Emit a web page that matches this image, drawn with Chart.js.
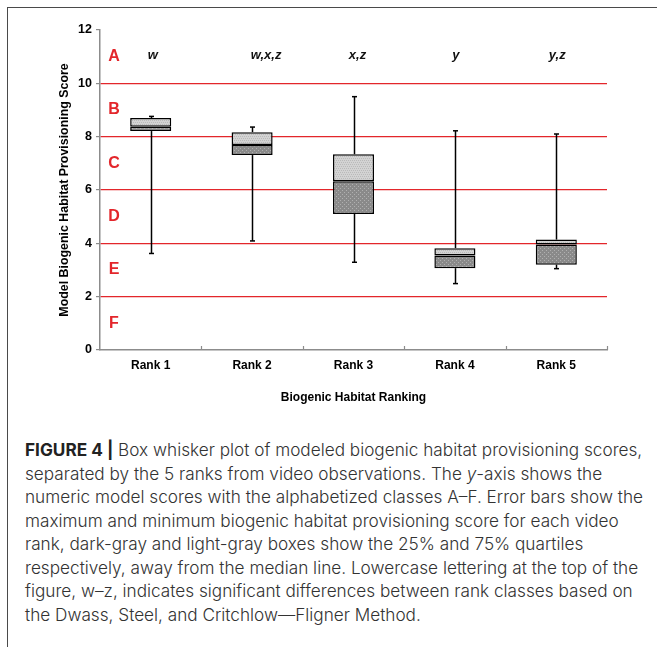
<!DOCTYPE html>
<html>
<head>
<meta charset="utf-8">
<script src="https://cdn.jsdelivr.net/npm/chart.js@4/dist/chart.umd.min.js"></script>
<style>
  html, body { margin: 0; padding: 0; background: #fff; }
  body { width: 657px; height: 647px; position: relative; overflow: hidden; }
  #frameTop { position: absolute; left: 8px; top: 7px; width: 649px; height: 0; border-top: 1.5px solid #4a4a4a; }
  #frameLeft { position: absolute; left: 7px; top: 7px; width: 0; height: 640px; border-left: 1.5px solid #4a4a4a; }
  #chart { position: absolute; left: 0; top: 0; }
  #caption {
    position: absolute; left: 25px; top: 438px; width: 640px;
    font-family: Inter, "Liberation Sans", Arial, sans-serif;
    font-weight: 300; font-size: 17.2px; line-height: 23.5px; color: #333;
    white-space: nowrap;
  }
  #caption b { font-weight: 700; color: #222; }
</style>
</head>
<body>
<div id="frameTop"></div>
<div id="frameLeft"></div>
<canvas id="chart" width="657" height="420"></canvas>
<div id="caption"><b>FIGURE 4 |</b> Box whisker plot of modeled biogenic habitat provisioning scores,<br>separated by the 5 ranks from video observations. The <i>y</i>-axis shows the<br>numeric model scores with the alphabetized classes A–F. Error bars show the<br>maximum and minimum biogenic habitat provisioning score for each video<br>rank, dark-gray and light-gray boxes show the 25% and 75% quartiles<br>respectively, away from the median line. Lowercase lettering at the top of the<br>figure, w–z, indicates significant differences between rank classes based on<br>the Dwass, Steel, and Critchlow—Fligner Method.</div>

<script>
// Rank categories and their score distributions
const ranks = ['Rank 1', 'Rank 2', 'Rank 3', 'Rank 4', 'Rank 5'];
const maxScores = [8.76, 8.36, 9.50, 8.22, 8.10];
const q3Scores = [8.70, 8.17, 7.34, 3.82, 4.14];
const medianScores = [8.37, 7.69, 6.33, 3.54, 3.96];
const q1Scores = [8.21, 7.31, 5.10, 3.07, 3.20];
const minScores = [3.62, 4.09, 3.29, 2.49, 3.05];

// Significance groups printed above each rank
const groupLetters = ['w', 'w,x,z', 'x,z', 'y', 'y,z'];

// Habitat classes and the score at the middle of each band
const classNames = ['A', 'B', 'C', 'D', 'E', 'F'];
const classMidScores = [11, 9, 7, 5, 3, 1];
const classBreaks = [2, 4, 6, 8, 10];

const yTicks = [0, 2, 4, 6, 8, 10, 12];

const FONT = '"Liberation Sans", Arial, Helvetica, sans-serif';
const RED = '#e3262b';
const AXIS_GRAY = '#8c8c8c';

// Stippled fills for the two halves of each box
function makePattern(base, dot, cells) {
  const c = document.createElement('canvas');
  c.width = 4; c.height = 4;
  const g = c.getContext('2d');
  g.fillStyle = base; g.fillRect(0, 0, 4, 4);
  g.fillStyle = dot;
  cells.forEach(([x, y]) => g.fillRect(x, y, 1, 1));
  return g.createPattern(c, 'repeat');
}
const ctx0 = document.getElementById('chart').getContext('2d');
const lightFill = makePattern('#d3d3d3', '#bababa', [[0,0],[2,0],[1,2],[3,2]]);
const darkFill = makePattern('#8a8a8a', '#b0b0b0', [[0,0],[2,2]]);

const lowerBoxes = ranks.map((_, i) => [q1Scores[i], medianScores[i]]);
const upperBoxes = ranks.map((_, i) => [medianScores[i], q3Scores[i]]);

// Whiskers, class letters, group letters and x-axis boundary ticks
const decorations = {
  id: 'decorations',
  afterDatasetsDraw(chart) {
    const { ctx, chartArea, scales: { x, y } } = chart;
    ctx.save();

    // whiskers with short caps
    ctx.strokeStyle = '#000';
    ctx.lineWidth = 1.5;
    ranks.forEach((_, i) => {
      const px = Math.round(x.getPixelForValue(i)) + 0.5;
      const segs = [[q3Scores[i], maxScores[i]], [q1Scores[i], minScores[i]]];
      segs.forEach(([a, b]) => {
        ctx.beginPath();
        ctx.moveTo(px, y.getPixelForValue(a));
        ctx.lineTo(px, y.getPixelForValue(b));
        ctx.stroke();
        ctx.beginPath();
        ctx.moveTo(px - 2.5, y.getPixelForValue(b));
        ctx.lineTo(px + 2.5, y.getPixelForValue(b));
        ctx.stroke();
      });
    });

    // class letters down the left side
    ctx.fillStyle = RED;
    ctx.font = 'bold 16px ' + FONT;
    ctx.textAlign = 'center';
    ctx.textBaseline = 'middle';
    classNames.forEach((name, i) => {
      ctx.fillText(name, chartArea.left + 14, y.getPixelForValue(classMidScores[i]));
    });

    // significance groups above the ranks
    ctx.fillStyle = '#111';
    ctx.font = 'italic bold 13px ' + FONT;
    const nudge = [2, 14, 4, 1, 1];
    groupLetters.forEach((txt, i) => {
      ctx.fillText(txt, x.getPixelForValue(i) + nudge[i], y.getPixelForValue(11.05));
    });

    // short upward ticks between categories on the x axis
    ctx.strokeStyle = AXIS_GRAY;
    ctx.lineWidth = 1.2;
    const yb = chartArea.bottom;
    for (let i = 0; i < ranks.length; i++) {
      const bx = i < ranks.length - 1
        ? (x.getPixelForValue(i) + x.getPixelForValue(i + 1)) / 2
        : chartArea.right;
      ctx.beginPath();
      ctx.moveTo(Math.round(bx) + 0.5, yb);
      ctx.lineTo(Math.round(bx) + 0.5, yb - 4);
      ctx.stroke();
    }
    ctx.restore();
  }
};

new Chart(ctx0, {
  type: 'bar',
  data: {
    labels: ranks,
    datasets: [
      {
        label: '25% quartile',
        data: lowerBoxes,
        backgroundColor: darkFill,
        borderColor: '#000',
        borderWidth: 1.5,
        borderSkipped: false,
        grouped: false,
        categoryPercentage: 1,
        barPercentage: 0.405
      },
      {
        label: '75% quartile',
        data: upperBoxes,
        backgroundColor: lightFill,
        borderColor: '#000',
        borderWidth: 1.5,
        borderSkipped: false,
        grouped: false,
        categoryPercentage: 1,
        barPercentage: 0.405
      }
    ]
  },
  options: {
    responsive: false,
    animation: false,
    devicePixelRatio: 1,
    layout: { padding: { top: 30, right: 50, left: 0, bottom: 0 } },
    plugins: { legend: { display: false }, tooltip: { enabled: false } },
    scales: {
      x: {
        afterFit(scale) { scale.height = 70; },
        grid: { display: false, drawTicks: false },
        border: { display: true, color: AXIS_GRAY, width: 1.5 },
        ticks: { color: '#000', font: { family: FONT, size: 12, weight: 'bold' }, padding: 8 },
        title: {
          display: true,
          text: 'Biogenic Habitat Ranking',
          color: '#000',
          font: { family: FONT, size: 12, weight: 'bold' },
          padding: { top: 0, bottom: 15.5 }
        }
      },
      y: {
        min: 0,
        max: 12,
        afterFit(scale) { scale.width = 100; },
        afterBuildTicks(scale) { scale.ticks = yTicks.map(v => ({ value: v })); },
        grid: {
          color: c => classBreaks.includes(c.tick && c.tick.value) ? RED : 'rgba(0,0,0,0)',
          lineWidth: 1.2,
          drawTicks: true,
          tickLength: 4,
          tickColor: AXIS_GRAY,
          tickWidth: 1.2
        },
        border: { display: true, color: AXIS_GRAY, width: 1.5 },
        ticks: { color: '#000', font: { family: FONT, size: 12.5, weight: 'bold' }, padding: 4 },
        title: {
          display: true,
          text: 'Model Biogenic Habitat Provisioning Score',
          color: '#000',
          font: { family: FONT, size: 12.4, weight: 'bold' },
          padding: { top: 57.5, bottom: 0 }
        }
      }
    }
  },
  plugins: [decorations]
});
</script>
</body>
</html>
